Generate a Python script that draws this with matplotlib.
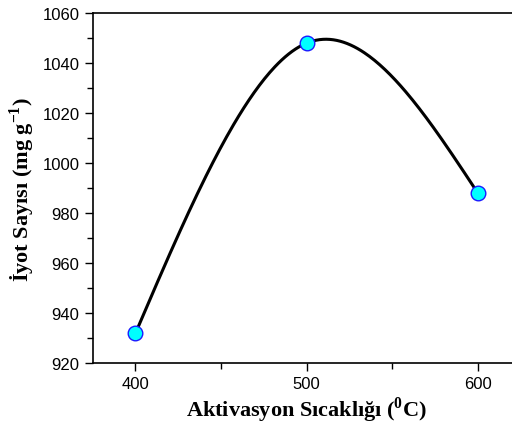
import numpy as np
import matplotlib
matplotlib.use('Agg')
import matplotlib.pyplot as plt
from matplotlib.ticker import MultipleLocator

# data
temp = [400, 500, 600]
iodine = [932, 1048, 988]

plt.rcParams['font.family'] = 'Liberation Sans'
plt.rcParams['mathtext.fontset'] = 'custom'
plt.rcParams['mathtext.rm'] = 'Liberation Serif:bold'
plt.rcParams['mathtext.bf'] = 'Liberation Serif:bold'


def natural_spline(x, y, n=200):
    # natural cubic spline through the points (like Origin's spline connect)
    x = np.asarray(x, float)
    y = np.asarray(y, float)
    k = len(x)
    h = np.diff(x)
    A = np.zeros((k, k))
    b = np.zeros(k)
    A[0, 0] = A[-1, -1] = 1
    for i in range(1, k - 1):
        A[i, i - 1] = h[i - 1] / 6
        A[i, i] = (h[i - 1] + h[i]) / 3
        A[i, i + 1] = h[i] / 6
        b[i] = (y[i + 1] - y[i]) / h[i] - (y[i] - y[i - 1]) / h[i - 1]
    M = np.linalg.solve(A, b)
    xs = np.linspace(x[0], x[-1], n)
    ys = np.empty_like(xs)
    for j, xv in enumerate(xs):
        i = min(np.searchsorted(x, xv, side='right') - 1, k - 2)
        t0 = x[i + 1] - xv
        t1 = xv - x[i]
        ys[j] = (M[i] * t0**3 + M[i + 1] * t1**3) / (6 * h[i]) \
            + (y[i] / h[i] - M[i] * h[i] / 6) * t0 \
            + (y[i + 1] / h[i] - M[i + 1] * h[i] / 6) * t1
    return xs, ys


fig = plt.figure(figsize=(5.12, 4.27), dpi=100)
ax = fig.add_axes([0.181, 0.147, 0.836, 0.82])

xs, ys = natural_spline(temp, iodine)
ax.plot(xs, ys, color='black', lw=2.2, zorder=2)
ax.plot(temp, iodine, 'o', ms=10.5, mfc='#00ffff', mec='#1a1aff', mew=1, zorder=3)

ax.set_xlim(375, 625)
ax.set_ylim(920, 1060)
ax.xaxis.set_major_locator(MultipleLocator(100))
ax.xaxis.set_minor_locator(MultipleLocator(50))
ax.yaxis.set_major_locator(MultipleLocator(20))
ax.yaxis.set_minor_locator(MultipleLocator(10))
ax.tick_params(which='major', direction='out', length=6, width=1, labelsize=12)
ax.tick_params(which='minor', direction='out', length=4, width=1)
for s in ax.spines.values():
    s.set_linewidth(1.2)

ax.set_xlabel('Aktivasyon Sıcaklığı ($^{\\mathbf{0}}$C)', family='Liberation Serif',
              fontweight='bold', fontsize=16, labelpad=2)
ax.set_ylabel('İyot Sayısı (mg g$^{\\mathbf{-1}}$)', family='Liberation Serif',
              fontweight='bold', fontsize=16, labelpad=4)

fig.savefig('out.png', dpi=100)
